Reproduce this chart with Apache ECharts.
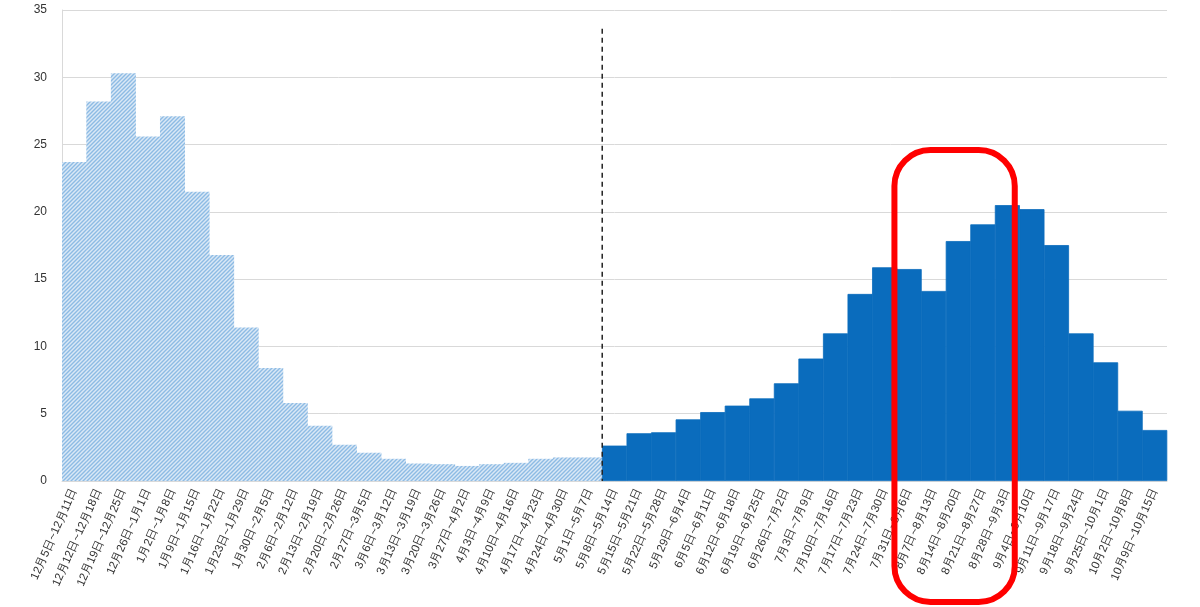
<!DOCTYPE html>
<html>
<head>
<meta charset="utf-8">
<script src="https://cdn.jsdelivr.net/npm/echarts@6/dist/echarts.min.js"></script>
<style>
html,body{margin:0;padding:0;background:#fff;}
#chart{width:1200px;height:607px;}
</style>
</head>
<body>
<div id="chart"></div>
<script>
const categories = [
  "12月5日~12月11日","12月12日~12月18日","12月19日~12月25日","12月26日~1月1日",
  "1月2日~1月8日","1月9日~1月15日","1月16日~1月22日","1月23日~1月29日",
  "1月30日~2月5日","2月6日~2月12日","2月13日~2月19日","2月20日~2月26日",
  "2月27日~3月5日","3月6日~3月12日","3月13日~3月19日","3月20日~3月26日",
  "3月27日~4月2日","4月3日~4月9日","4月10日~4月16日","4月17日~4月23日",
  "4月24日~4月30日","5月1日~5月7日",
  "5月8日~5月14日","5月15日~5月21日","5月22日~5月28日","5月29日~6月4日",
  "6月5日~6月11日","6月12日~6月18日","6月19日~6月25日","6月26日~7月2日",
  "7月3日~7月9日","7月10日~7月16日","7月17日~7月23日","7月24日~7月30日",
  "7月31日~8月6日","8月7日~8月13日","8月14日~8月20日","8月21日~8月27日",
  "8月28日~9月3日","9月4日~9月10日","9月11日~9月17日","9月18日~9月24日",
  "9月25日~10月1日","10月2日~10月8日","10月9日~10月15日"
];
const earlyValues = [23.7,28.2,30.3,25.6,27.1,21.5,16.8,11.4,8.4,5.8,4.1,2.7,2.1,1.65,1.3,1.25,1.12,1.25,1.35,1.65,1.75,1.75];
const laterValues = [2.63,3.55,3.62,4.58,5.12,5.6,6.14,7.26,9.1,10.97,13.9,15.88,15.75,14.12,17.83,19.07,20.5,20.2,17.53,10.97,8.82,5.22,3.79];
const yTicks = [0,5,10,15,20,25,30,35];
const dividerTop = 33.6;
const highlightFrom = 34, highlightTo = 38;

function makeHatch(){
  const c = document.createElement('canvas');
  c.width = 4; c.height = 4;
  const g = c.getContext('2d');
  g.fillStyle = '#dae8f6';
  g.fillRect(0,0,4,4);
  g.strokeStyle = '#8dbbe4';
  g.lineWidth = 1.4;
  g.beginPath();
  g.moveTo(-1,5); g.lineTo(5,-1);
  g.moveTo(-1,1); g.lineTo(1,-1);
  g.moveTo(3,5); g.lineTo(5,3);
  g.stroke();
  return c;
}

const earlyData = categories.map((_, i) => i < earlyValues.length ? earlyValues[i] : null);
const laterData = categories.map((_, i) => i >= earlyValues.length ? laterValues[i - earlyValues.length] : null);

const chart = echarts.init(document.getElementById('chart'));
const font = '"Liberation Sans", Arial, sans-serif';
chart.setOption({
  animation: false,
  grid: {left: 62, right: 33, top: 10, bottom: 126},
  xAxis: {
    type: 'category',
    data: categories,
    axisTick: {show: false},
    axisLine: {show: true, lineStyle: {color: '#d9d9d9'}},
    axisLabel: {interval: 0, rotate: 66, fontSize: 11.5, color: '#333', fontFamily: font, margin: 8}
  },
  yAxis: {
    type: 'value',
    min: yTicks[0], max: yTicks[yTicks.length-1], interval: 5,
    axisLine: {show: true, lineStyle: {color: '#d9d9d9'}},
    axisTick: {show: false},
    axisLabel: {fontSize: 12, color: '#333', fontFamily: font, margin: 15},
    splitLine: {lineStyle: {color: '#d9d9d9', width: 1}}
  },
  series: [
    {type: 'bar', data: earlyData, barWidth: '102%', barGap: '-100%',
     itemStyle: {color: {image: makeHatch(), repeat: 'repeat'}}},
    {type: 'bar', data: laterData, barWidth: '102%', barGap: '-100%',
     itemStyle: {color: '#0a6cbd', borderColor: '#0a6cbd', borderWidth: 0.8}}
  ]
});

const x1 = chart.convertToPixel({xAxisIndex: 0}, earlyValues.length - 1);
const x2 = chart.convertToPixel({xAxisIndex: 0}, earlyValues.length);
const divX = (x1 + x2) / 2;
const yTop = chart.convertToPixel({yAxisIndex: 0}, dividerTop);
const yBase = chart.convertToPixel({yAxisIndex: 0}, 0);
const hl = chart.convertToPixel({xAxisIndex: 0}, highlightFrom);
const hr = chart.convertToPixel({xAxisIndex: 0}, highlightTo);
const bw = x2 - x1;
chart.setOption({
  graphic: [
    {type: 'line', z: 100, shape: {x1: divX, y1: yTop, x2: divX, y2: yBase},
     style: {stroke: '#222', lineWidth: 1.5, lineDash: [5, 4]}},
    {type: 'rect', z: 100,
     shape: {x: hl - bw * 0.6, y: 150, width: (hr - hl) + bw * 0.9, height: 452, r: 36},
     style: {fill: 'none', stroke: '#ff0000', lineWidth: 6}}
  ]
});
</script>
</body>
</html>
